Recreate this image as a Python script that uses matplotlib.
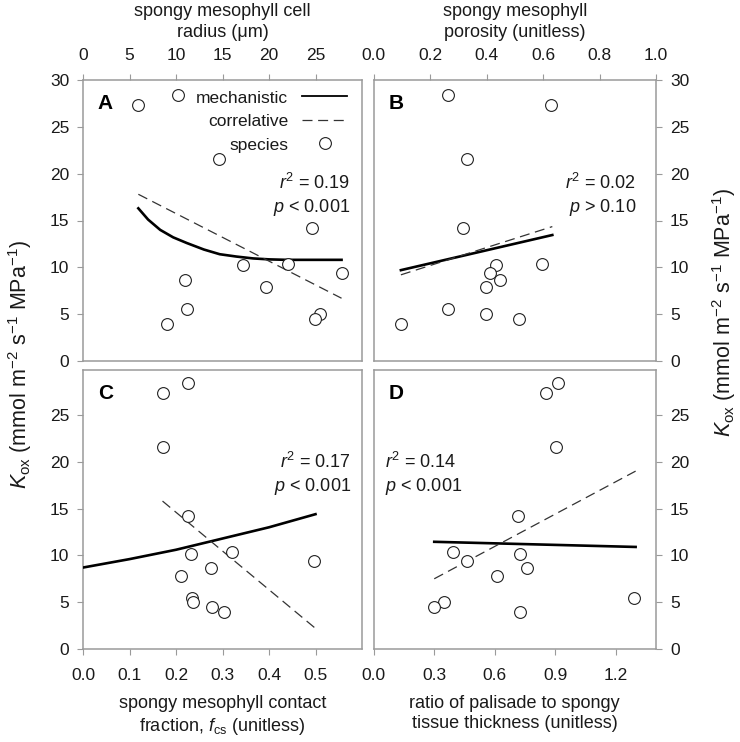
# Kox versus four spongy mesophyll / leaf traits, four panels

import matplotlib
matplotlib.use("Agg")
import matplotlib.pyplot as plt

plt.rcParams['font.family'] = ['Liberation Sans', 'DejaVu Sans']
plt.rcParams['mathtext.fontset'] = 'custom'
plt.rcParams['mathtext.rm'] = 'Liberation Sans'
plt.rcParams['mathtext.it'] = 'Liberation Sans:italic'
plt.rcParams['mathtext.bf'] = 'Liberation Sans:bold'

# species Kox values (same for every panel)
kox = [28.4, 27.3, 21.6, 14.2, 10.4, 10.2, 9.35, 8.65, 7.85, 5.5, 5.0, 4.5, 4.0]

# panel A: spongy mesophyll cell radius (um)
radius = [10.25, 5.95, 14.6, 24.65, 22.0, 17.2, 27.8, 11.0, 19.7, 11.15, 25.5, 24.9, 9.0]
radius_mech_x = [5.95, 7.0, 8.3, 9.7, 11.15, 13.0, 14.7, 16.5, 18.3, 20.0, 21.9, 25.0, 27.8]
radius_mech_y = [16.3, 15.1, 14.0, 13.2, 12.6, 11.9, 11.4, 11.15, 10.95, 10.85, 10.8, 10.8, 10.8]
radius_corr_x = [5.95, 27.8]
radius_corr_y = [17.8, 6.7]

# panel B: spongy mesophyll porosity
porosity = [0.265, 0.63, 0.33, 0.316, 0.598, 0.432, 0.414, 0.449, 0.399, 0.265, 0.399, 0.514, 0.097]
poro_mech_x = [0.097, 0.633]
poro_mech_y = [9.7, 13.45]
poro_corr_x = [0.097, 0.633]
poro_corr_y = [9.2, 14.35]

# panel C: spongy mesophyll contact fraction
fcs = [0.226, 0.171, 0.171, 0.226, 0.320, 0.232, 0.496, 0.276, 0.211, 0.234, 0.237, 0.277, 0.303]
fcs_mech_x = [0.0, 0.1, 0.2, 0.3, 0.4, 0.5]
fcs_mech_y = [8.7, 9.6, 10.6, 11.8, 13.0, 14.4]
fcs_corr_x = [0.171, 0.5]
fcs_corr_y = [15.8, 2.2]

# panel D: palisade / spongy thickness ratio
ratio = [0.916, 0.855, 0.904, 0.718, 0.395, 0.728, 0.462, 0.761, 0.614, 1.292, 0.348, 0.301, 0.726]
ratio_mech_x = [0.301, 1.299]
ratio_mech_y = [11.45, 10.9]
ratio_corr_x = [0.301, 1.299]
ratio_corr_y = [7.5, 19.0]

GREY = '#9a9a9a'
TXT = '#1a1a1a'
DASH = (8, 4.5)

fig = plt.figure(figsize=(7.4, 7.42), dpi=100)
axA = fig.add_axes([83/740, 1-361/742, 279/740, 281/742])
axB = fig.add_axes([373.5/740, 1-361/742, 282.5/740, 281/742])
axC = fig.add_axes([83/740, 1-649/742, 279/740, 279/742])
axD = fig.add_axes([373.5/740, 1-649/742, 282.5/740, 279/742])


def style(ax, top, right):
    for s in ax.spines.values():
        s.set_color(GREY)
        s.set_linewidth(1.1)
    ax.tick_params(colors=GREY, labelcolor=TXT, labelsize=12.5, length=4,
                   direction='out', top=False, right=False, left=False, bottom=False,
                   labeltop=False, labelbottom=False, labelleft=False, labelright=False)
    if top:
        ax.tick_params(axis='x', top=True, labeltop=True, pad=8)
        ax.xaxis.set_label_position('top')
    else:
        ax.tick_params(axis='x', bottom=True, labelbottom=True, pad=10)
    if right:
        ax.tick_params(axis='y', right=True, labelright=True, pad=6)
    else:
        ax.tick_params(axis='y', left=True, labelleft=True, pad=6)


def draw(ax, x, mx, my, cx, cy):
    ax.plot(mx, my, color='black', lw=1.9, label='mechanistic', zorder=3)
    ax.plot(cx, cy, color='#333333', lw=0.9, dashes=DASH, label='correlative', zorder=3)
    ax.plot(x, kox, 'o', mfc='white', mec='#222222', mew=0.8, ms=8.5,
            ls='none', label='species', zorder=4)


draw(axA, radius, radius_mech_x, radius_mech_y, radius_corr_x, radius_corr_y)
draw(axB, porosity, poro_mech_x, poro_mech_y, poro_corr_x, poro_corr_y)
draw(axC, fcs, fcs_mech_x, fcs_mech_y, fcs_corr_x, fcs_corr_y)
draw(axD, ratio, ratio_mech_x, ratio_mech_y, ratio_corr_x, ratio_corr_y)

style(axA, top=True, right=False)
style(axB, top=True, right=True)
style(axC, top=False, right=False)
style(axD, top=False, right=True)

axA.set_xlim(0, 30)
axA.set_xticks([0, 5, 10, 15, 20, 25])
axB.set_xlim(0, 1.0)
axB.set_xticks([0.0, 0.2, 0.4, 0.6, 0.8, 1.0])
axB.set_xticklabels(['0.0', '0.2', '0.4', '0.6', '0.8', '1.0'])
axC.set_xlim(0, 0.6)
axC.set_xticks([0.0, 0.1, 0.2, 0.3, 0.4, 0.5])
axC.set_xticklabels(['0.0', '0.1', '0.2', '0.3', '0.4', '0.5'])
axD.set_xlim(0, 1.4)
axD.set_xticks([0.0, 0.3, 0.6, 0.9, 1.2])
axD.set_xticklabels(['0.0', '0.3', '0.6', '0.9', '1.2'])

for ax in (axA, axB):
    ax.set_ylim(0, 30)
    ax.set_yticks([0, 5, 10, 15, 20, 25, 30])
for ax in (axC, axD):
    ax.set_ylim(0, 29.8)
    ax.set_yticks([0, 5, 10, 15, 20, 25])

lab = dict(fontsize=13, color=TXT, linespacing=1.3)
axA.set_xlabel('spongy mesophyll cell\nradius (\u03bcm)', labelpad=8, **lab)
axB.set_xlabel('spongy mesophyll\nporosity (unitless)', labelpad=8, **lab)
axC.set_xlabel('spongy mesophyll contact\nfraction, $f_{\\mathrm{cs}}$ (unitless)', labelpad=8, **lab)
axD.set_xlabel('ratio of palisade to spongy\ntissue thickness (unitless)', labelpad=8, **lab)

# panel letters
for ax, letter in ((axA, 'A'), (axB, 'B'), (axC, 'C'), (axD, 'D')):
    ax.text(0.08, 0.915, letter, transform=ax.transAxes, fontsize=15,
            fontweight='bold', ha='center', va='center', color='black')

# statistics
st = dict(fontsize=13, color=TXT, va='center')
axA.text(0.957, 0.633, '$r^2$ = 0.19', transform=axA.transAxes, ha='right', **st)
axA.text(0.957, 0.548, '$p$ < 0.001', transform=axA.transAxes, ha='right', **st)
axB.text(0.93, 0.633, '$r^2$ = 0.02', transform=axB.transAxes, ha='right', **st)
axB.text(0.93, 0.548, '$p$ > 0.10', transform=axB.transAxes, ha='right', **st)
axC.text(0.96, 0.671, '$r^2$ = 0.17', transform=axC.transAxes, ha='right', **st)
axC.text(0.96, 0.582, '$p$ < 0.001', transform=axC.transAxes, ha='right', **st)
axD.text(0.04, 0.671, '$r^2$ = 0.14', transform=axD.transAxes, ha='left', **st)
axD.text(0.04, 0.582, '$p$ < 0.001', transform=axD.transAxes, ha='left', **st)

leg = axA.legend(loc='upper right', bbox_to_anchor=(0.985, 1.0), markerfirst=False,
                 frameon=False, fontsize=12.5, handlelength=2.6, handletextpad=0.8,
                 labelspacing=0.48, borderaxespad=0.2)
for t in leg.get_texts():
    t.set_color(TXT)
for h in leg.legend_handles[:1]:
    h.set_linewidth(1.3)

ylab = '$K_{\\mathrm{ox}}$ (mmol m$^{\\mathrm{-2}}$ s$^{\\mathrm{-1}}$ MPa$^{\\mathrm{-1}}$)'
fig.text(20/740, 1-365/742, ylab, rotation=90, ha='center', va='center',
         fontsize=15.5, color=TXT)
fig.text(724/740, 1-313/742, ylab, rotation=90, ha='center', va='center',
         fontsize=15.5, color=TXT)

plt.savefig("out.png", dpi=100)
plt.close(fig)
